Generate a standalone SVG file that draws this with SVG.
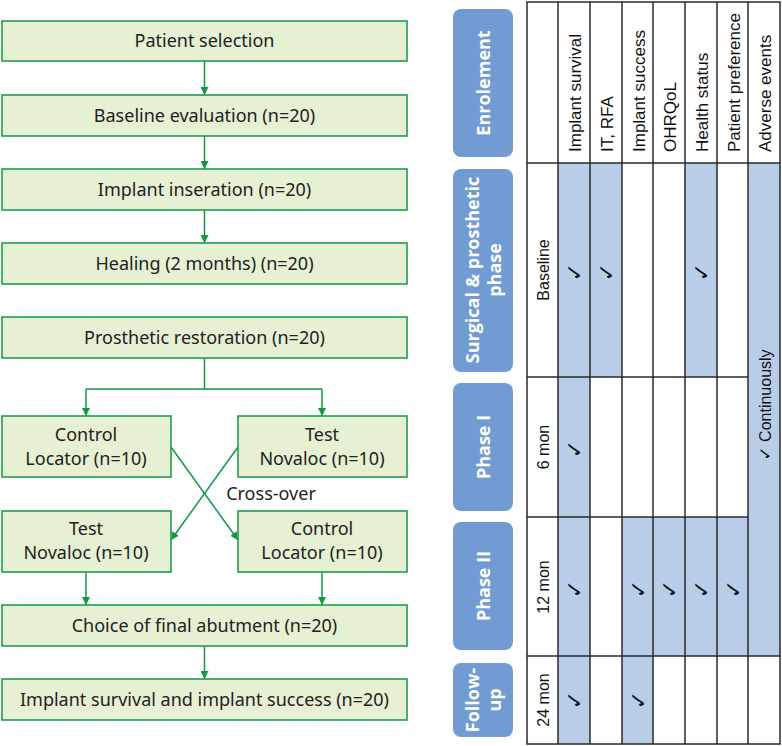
<svg xmlns="http://www.w3.org/2000/svg" width="782" height="746" viewBox="0 0 782 746">
<defs>
<style>
.box{fill:#e6f0d3;stroke:#1f9e50;stroke-width:1.6}
.bt{font-family:"Noto Sans","Open Sans",sans-serif;font-size:18px;fill:#222;text-anchor:middle}
.con{fill:none;stroke:#119847;stroke-width:1.5}
.ph{fill:#729bd3}
.pt{font-family:"Open Sans","Noto Sans",sans-serif;font-size:18px;font-weight:bold;fill:#fff;text-anchor:middle;dominant-baseline:central}
.sh{fill:#b9cde9}
.gl{stroke:#2a2a2a;stroke-width:1.5;fill:none}
.ht{font-family:"Liberation Sans",Arial,sans-serif;font-size:17px;fill:#111;dominant-baseline:central}
.rt{font-family:"Liberation Sans",Arial,sans-serif;font-size:16px;fill:#111;dominant-baseline:central;text-anchor:middle}
.ck{font-family:"DejaVu Sans",sans-serif;font-size:22px;font-weight:bold;fill:#111;text-anchor:middle;dominant-baseline:central}
</style>
<marker id="ah" viewBox="0 0 10 10" refX="10" refY="5" markerWidth="8" markerHeight="8" markerUnits="userSpaceOnUse" orient="auto">
<path d="M0,0 L10,5 L0,10 z" fill="#119847"/>
</marker>
</defs>
<rect width="782" height="746" fill="#fff"/>

<g id="connectors">
<path class="con" d="M204.5 61 V95" marker-end="url(#ah)"/>
<path class="con" d="M204.5 136 V169" marker-end="url(#ah)"/>
<path class="con" d="M204.5 210 V243" marker-end="url(#ah)"/>
<path class="con" d="M204.5 358 V389 M86 389 H322"/>
<path class="con" d="M86 389 V416" marker-end="url(#ah)"/>
<path class="con" d="M322 389 V416" marker-end="url(#ah)"/>
<path class="con" d="M171 447 L238 540" marker-end="url(#ah)"/>
<path class="con" d="M238 447 L171 540" marker-end="url(#ah)"/>
<path class="con" d="M86 572 V605" marker-end="url(#ah)"/>
<path class="con" d="M322 572 V605" marker-end="url(#ah)"/>
<path class="con" d="M204.5 646 V679" marker-end="url(#ah)"/>
</g>

<g id="n1"><rect class="box" x="2" y="21" width="405" height="40"/><text class="bt" x="204.5" y="47">Patient selection</text></g>
<g id="n2"><rect class="box" x="2" y="95" width="405" height="41"/><text class="bt" x="204.5" y="122">Baseline evaluation (n=20)</text></g>
<g id="n3"><rect class="box" x="2" y="169" width="405" height="41"/><text class="bt" x="204.5" y="196">Implant inseration (n=20)</text></g>
<g id="n4"><rect class="box" x="2" y="243" width="405" height="41"/><text class="bt" x="204.5" y="270">Healing (2 months) (n=20)</text></g>
<g id="n5"><rect class="box" x="2" y="317" width="405" height="41"/><text class="bt" x="204.5" y="344">Prosthetic restoration (n=20)</text></g>
<g id="n6"><rect class="box" x="2" y="416" width="169" height="61"/><text class="bt" x="86" y="441">Control</text><text class="bt" x="86" y="465">Locator (n=10)</text></g>
<g id="n7"><rect class="box" x="238" y="416" width="169" height="61"/><text class="bt" x="322" y="441">Test</text><text class="bt" x="322" y="465">Novaloc (n=10)</text></g>
<g id="n8"><text class="bt" x="271" y="500">Cross-over</text></g>
<g id="n9"><rect class="box" x="2" y="511" width="169" height="61"/><text class="bt" x="86" y="535">Test</text><text class="bt" x="86" y="559">Novaloc (n=10)</text></g>
<g id="n10"><rect class="box" x="238" y="511" width="169" height="61"/><text class="bt" x="322" y="535">Control</text><text class="bt" x="322" y="559">Locator (n=10)</text></g>
<g id="n11"><rect class="box" x="2" y="605" width="405" height="41"/><text class="bt" x="204.5" y="632">Choice of final abutment (n=20)</text></g>
<g id="n12"><rect class="box" x="2" y="679" width="405" height="41"/><text class="bt" x="204.5" y="706">Implant survival and implant success (n=20)</text></g>

<g id="phases">
<rect class="ph" x="453" y="9" width="60" height="148" rx="8"/>
<text class="pt" transform="translate(483 83) rotate(-90)">Enrolement</text>
<rect class="ph" x="453" y="169" width="60" height="203" rx="8"/>
<text class="pt" transform="translate(483 270) rotate(-90)"><tspan x="0" dy="-11">Surgical &amp; prosthetic</tspan><tspan x="0" dy="22">phase</tspan></text>
<rect class="ph" x="453" y="383" width="60" height="128" rx="8"/>
<text class="pt" transform="translate(483 447) rotate(-90)">Phase I</text>
<rect class="ph" x="453" y="522" width="60" height="128" rx="8"/>
<text class="pt" transform="translate(483 586) rotate(-90)">Phase II</text>
<rect class="ph" x="453" y="663" width="60" height="74" rx="8"/>
<text class="pt" transform="translate(483 700) rotate(-90)"><tspan x="0" dy="-11">Follow-</tspan><tspan x="0" dy="22">up</tspan></text>
</g>

<g id="table">
<rect class="sh" x="558" y="163" width="32" height="581"/>
<rect class="sh" x="590" y="163" width="32" height="214"/>
<rect class="sh" x="685" y="163" width="32" height="214"/>
<rect class="sh" x="748" y="163" width="32" height="493"/>
<rect class="sh" x="622" y="517" width="95" height="139"/>
<rect class="sh" x="717" y="517" width="31" height="139"/>
<rect class="sh" x="622" y="656" width="31" height="88"/>
<rect class="gl" x="527" y="2" width="253" height="742"/>
<path class="gl" d="M558 2V744 M590 2V744 M622 2V744 M653 2V744 M685 2V744 M717 2V744 M748 2V744 M527 163H780 M527 377H748 M527 517H748 M527 656H780"/>
<text class="ht" transform="translate(575 152) rotate(-90)">Implant survival</text>
<text class="ht" transform="translate(607 152) rotate(-90)">IT, RFA</text>
<text class="ht" transform="translate(639 152) rotate(-90)">Implant success</text>
<text class="ht" transform="translate(670 152) rotate(-90)">OHRQoL</text>
<text class="ht" transform="translate(702 152) rotate(-90)">Health status</text>
<text class="ht" transform="translate(734 152) rotate(-90)">Patient preference</text>
<text class="ht" transform="translate(765 152) rotate(-90)">Adverse events</text>
<text class="rt" transform="translate(543 270) rotate(-90)">Baseline</text>
<text class="rt" transform="translate(543 447) rotate(-90)">6 mon</text>
<text class="rt" transform="translate(543 587) rotate(-90)">12 mon</text>
<text class="rt" transform="translate(543 700) rotate(-90)">24 mon</text>
<text class="rt" transform="translate(765 405) rotate(-90)"><tspan font-family="DejaVu Sans" font-weight="bold" font-size="17">✓</tspan> Continuously</text>
<text class="ck" transform="translate(574 272) rotate(-90)">✓</text>
<text class="ck" transform="translate(606 272) rotate(-90)">✓</text>
<text class="ck" transform="translate(701 272) rotate(-90)">✓</text>
<text class="ck" transform="translate(574 449) rotate(-90)">✓</text>
<text class="ck" transform="translate(574 589) rotate(-90)">✓</text>
<text class="ck" transform="translate(638 589) rotate(-90)">✓</text>
<text class="ck" transform="translate(669 589) rotate(-90)">✓</text>
<text class="ck" transform="translate(701 589) rotate(-90)">✓</text>
<text class="ck" transform="translate(733 589) rotate(-90)">✓</text>
<text class="ck" transform="translate(574 700) rotate(-90)">✓</text>
<text class="ck" transform="translate(638 700) rotate(-90)">✓</text>
</g>
</svg>
